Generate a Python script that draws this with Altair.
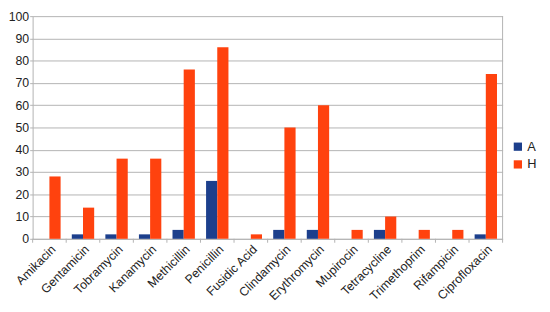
import altair as alt
import pandas as pd

drugs = ["Amikacin", "Gentamicin", "Tobramycin", "Kanamycin", "Methicillin", "Penicillin",
         "Fusidic Acid", "Clindamycin", "Erythromycin", "Mupirocin", "Tetracycline",
         "Trimethoprim", "Rifampicin", "Ciprofloxacin"]
vals_A = [0, 2, 2, 2, 4, 26, 0, 4, 4, 0, 4, 0, 0, 2]
vals_H = [28, 14, 36, 36, 76, 86, 2, 50, 60, 4, 10, 4, 4, 74]
series = ["A", "H"]
colors = ["#1c3f8c", "#ff420e"]

rows = []
for d, a, h in zip(drugs, vals_A, vals_H):
    rows.append({"drug": d, "series": "A", "value": a})
    rows.append({"drug": d, "series": "H", "value": h})
df = pd.DataFrame(rows)

FONT = "Liberation Sans"
H = 226

xscale = alt.Scale(domain=drugs, paddingInner=0.0, paddingOuter=0.0)

bars = alt.Chart(df).mark_bar().encode(
    x=alt.X("drug:N", sort=drugs, scale=xscale,
            axis=alt.Axis(title=None, labelAngle=-45, labelAlign="right", labelBaseline="top",
                          labelFont=FONT, labelFontSize=12.5, labelColor="#222",
                          ticks=False, domainColor="#b3b3b3", labelPadding=4)),
    xOffset=alt.XOffset("series:N", scale=alt.Scale(domain=series, paddingInner=0, paddingOuter=0.5)),
    y=alt.Y("value:Q", scale=alt.Scale(domain=[0, 100]),
            axis=alt.Axis(title=None, values=list(range(0, 101, 10)), labelFont=FONT,
                          labelFontSize=12.5, labelColor="#222", gridColor="#b3b3b3",
                          domainColor="#b3b3b3", tickColor="#b3b3b3", tickSize=3, labelPadding=1)),
    color=alt.Color("series:N", scale=alt.Scale(domain=series, range=colors),
                    legend=alt.Legend(title=None, orient="none", legendX=486, legendY=126,
                                      symbolType="square", symbolSize=70, symbolStrokeWidth=0,
                                      labelFont=FONT, labelFontSize=13, labelColor="#222",
                                      rowPadding=4, labelOffset=3)),
)

ticks = alt.Chart(pd.DataFrame({"drug": drugs})).mark_rule(color="#b3b3b3").encode(
    x=alt.X("drug:N", sort=drugs, scale=xscale, bandPosition=0),
    y=alt.value(H), y2=alt.value(H + 4),
)

right = alt.Chart(pd.DataFrame({"v": [0]})).mark_rule(color="#b3b3b3").encode(
    x=alt.value(477), y=alt.value(0), y2=alt.value(H + 4),
)

chart = alt.layer(bars, ticks, right).properties(
    width=477, height=H,
    autosize=alt.AutoSizeParams(type="none"),
    padding={"left": 25, "top": 6, "right": 40, "bottom": 70},
).configure_view(stroke=None)

chart.save("out.html", embed_options={"renderer": "svg", "actions": False})
